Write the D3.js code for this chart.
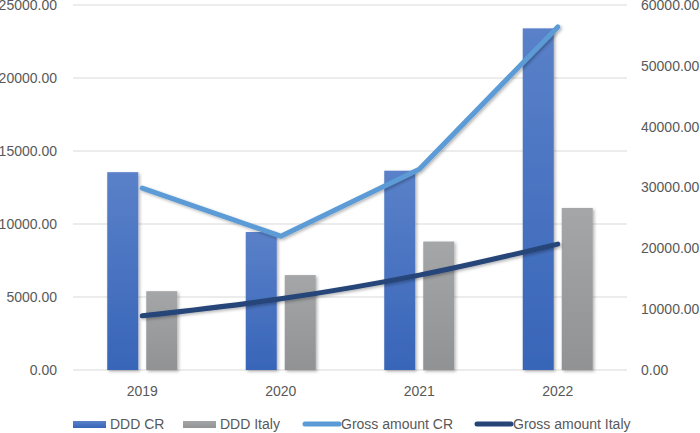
<!doctype html>
<html>
  <style>
    body { margin: 0; background-color: #fff; }
    text { font-family: "Liberation Sans", Arial, sans-serif; fill: #595959; }
  </style>
  <body>
  <script src="https://cdn.jsdelivr.net/npm/d3@7"></script>
  <script>
    var years = ['2019', '2020', '2021', '2022'];
    var dddCR = [13550, 9450, 13650, 23400];
    var dddItaly = [5400, 6500, 8800, 11100];
    var grossCR = [29900, 22000, 33000, 56400];
    var grossItaly = [8900, 11700, 15600, 20700];
    var leftTicks = [0, 5000, 10000, 15000, 20000, 25000];
    var rightTicks = [0, 10000, 20000, 30000, 40000, 50000, 60000];
    var legendNames = ['DDD CR', 'DDD Italy', 'Gross amount CR', 'Gross amount Italy'];

    var width = 700,
        height = 433;

    var svg = d3.select('body').append('svg')
        .attr('width', width)
        .attr('height', height);

    var defs = svg.append('defs');

    var gradBlue = defs.append('linearGradient').attr('id', 'gBlue')
        .attr('x1', 0).attr('y1', 0).attr('x2', 0).attr('y2', 1);
    gradBlue.append('stop').attr('offset', '0%').attr('stop-color', '#5a81c9');
    gradBlue.append('stop').attr('offset', '100%').attr('stop-color', '#3865b8');

    var gradGrey = defs.append('linearGradient').attr('id', 'gGrey')
        .attr('x1', 0).attr('y1', 0).attr('x2', 0).attr('y2', 1);
    gradGrey.append('stop').attr('offset', '0%').attr('stop-color', '#a4a6a8');
    gradGrey.append('stop').attr('offset', '100%').attr('stop-color', '#909294');

    var shadow = defs.append('filter').attr('id', 'shadow')
        .attr('x', '-20%').attr('y', '-20%').attr('width', '150%').attr('height', '150%');
    shadow.append('feDropShadow')
        .attr('dx', 1.5).attr('dy', 1.5).attr('stdDeviation', 1.5)
        .attr('flood-color', '#000').attr('flood-opacity', 0.3);

    // plot area edges (note: "top" is taken by window.top)
    var plotTop = 5, plotBottom = 370, plotLeft = 73, plotRight = 627;

    var x = d3.scaleBand().domain(years).range([plotLeft, plotRight]);
    var x1 = d3.scaleBand().domain(['cr', 'it']).range([0, x.bandwidth()])
        .paddingInner(0.205).paddingOuter(0.878);
    var yL = d3.scaleLinear().domain([0, 25000]).range([plotBottom, plotTop]);
    var yR = d3.scaleLinear().domain([0, 60000]).range([plotBottom, plotTop]);

    // gridlines
    svg.append('g').selectAll('line')
        .data(leftTicks)
        .enter().append('line')
        .attr('x1', plotLeft).attr('x2', plotRight)
        .attr('y1', function (d) { return yL(d); })
        .attr('y2', function (d) { return yL(d); })
        .attr('stroke', '#d9d9d9')
        .attr('stroke-width', 1);

    // left axis labels
    svg.append('g').selectAll('text')
        .data(leftTicks)
        .enter().append('text')
        .attr('x', 57)
        .attr('y', function (d) { return yL(d); })
        .attr('dy', '0.35em')
        .attr('text-anchor', 'end')
        .style('font-size', '14px')
        .text(function (d) { return d.toFixed(2); });

    // right axis labels
    svg.append('g').selectAll('text')
        .data(rightTicks)
        .enter().append('text')
        .attr('x', 641)
        .attr('y', function (d) { return yR(d); })
        .attr('dy', '0.35em')
        .style('font-size', '14px')
        .text(function (d) { return d.toFixed(2); });

    // category labels
    svg.append('g').selectAll('text')
        .data(years)
        .enter().append('text')
        .attr('x', function (d) { return x(d) + x.bandwidth() / 2; })
        .attr('y', 391)
        .attr('dy', '0.35em')
        .attr('text-anchor', 'middle')
        .style('font-size', '14px')
        .text(function (d) { return d; });

    // bars
    var bars = svg.append('g').attr('filter', 'url(#shadow)');
    bars.selectAll('rect.cr')
        .data(dddCR)
        .enter().append('rect')
        .attr('class', 'cr')
        .attr('x', function (d, i) { return x(years[i]) + x1('cr'); })
        .attr('width', x1.bandwidth())
        .attr('y', function (d) { return yL(d); })
        .attr('height', function (d) { return plotBottom - yL(d); })
        .attr('fill', 'url(#gBlue)');
    bars.selectAll('rect.it')
        .data(dddItaly)
        .enter().append('rect')
        .attr('class', 'it')
        .attr('x', function (d, i) { return x(years[i]) + x1('it'); })
        .attr('width', x1.bandwidth())
        .attr('y', function (d) { return yL(d); })
        .attr('height', function (d) { return plotBottom - yL(d); })
        .attr('fill', 'url(#gGrey)');

    // lines
    var cx = function (d, i) { return x(years[i]) + x.bandwidth() / 2; };

    var lineCR = d3.line()
        .x(cx)
        .y(function (d) { return yR(d); });

    var lineIt = d3.line()
        .x(cx)
        .y(function (d) { return yR(d); })
        .curve(d3.curveCardinal.tension(0));

    var lines = svg.append('g').attr('filter', 'url(#shadow)');
    lines.append('path')
        .attr('d', lineCR(grossCR))
        .attr('fill', 'none')
        .attr('stroke', '#5b9bd5')
        .attr('stroke-width', 5)
        .attr('stroke-linejoin', 'round')
        .attr('stroke-linecap', 'round');
    lines.append('path')
        .attr('d', lineIt(grossItaly))
        .attr('fill', 'none')
        .attr('stroke', '#264478')
        .attr('stroke-width', 5)
        .attr('stroke-linejoin', 'round')
        .attr('stroke-linecap', 'round');

    // legend
    var legendX = [73, 183, 303, 475];
    var legend = svg.append('g');
    legendNames.forEach(function (name, i) {
      var g = legend.append('g').attr('transform', 'translate(' + legendX[i] + ',424)');
      if (i < 2) {
        g.append('rect')
            .attr('x', 0).attr('y', -3)
            .attr('width', 33).attr('height', 7)
            .attr('fill', i === 0 ? 'url(#gBlue)' : 'url(#gGrey)');
      } else {
        g.append('line')
            .attr('x1', 2).attr('x2', 36)
            .attr('y1', 0).attr('y2', 0)
            .attr('stroke', i === 2 ? '#5b9bd5' : '#264478')
            .attr('stroke-width', 5)
            .attr('stroke-linecap', 'round');
      }
      g.append('text')
          .attr('x', i < 2 ? 37 : 38)
          .attr('y', 0)
          .attr('dy', '0.35em')
          .style('font-size', '14px')
          .text(name);
    });
  </script>
  </body>
</html>
